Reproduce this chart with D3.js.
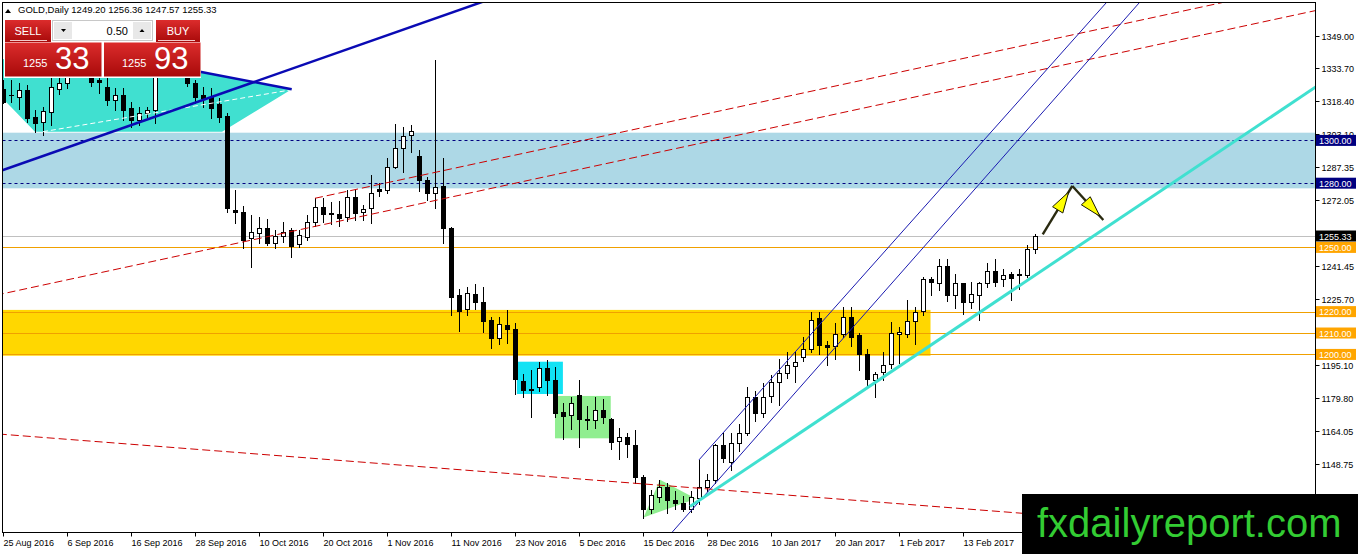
<!DOCTYPE html>
<html><head><meta charset="utf-8">
<script src="https://cdn.jsdelivr.net/npm/d3@7"></script>
<style>html,body{margin:0;padding:0;background:#fff;}svg{display:block;font-family:"Liberation Sans",Arial,sans-serif;}</style>
</head><body>
<svg id="c" width="1358" height="554"></svg>
<script>
// ---------- DATA ----------
const symbolTitle = "GOLD,Daily";
const lastQuote = ["1249.20", "1256.36", "1247.57", "1255.33"];
const opens = [1323.9,1321.4,1320.4,1323.5,1310.8,1308.4,1313.4,1323.8,1326.8,1349.0,
1340.5,1335.0,1328.2,1324.8,1318.8,1321.2,1315.0,1309.5,1312.6,1314.2,
1334.5,1337.0,1338.0,1339.0,1326.6,1321.2,1320.4,1316.8,1311.4,1267.7,
1266.6,1254.2,1256.5,1258.9,1252.2,1255.3,1258.1,1251.4,1255.0,1261.7,
1269.0,1265.9,1265.6,1264.0,1273.7,1266.4,1268.2,1277.1,1276.8,1287.7,
1296.3,1302.5,1292.8,1281.5,1275.2,1278.6,1258.9,1227.7,1221.0,1228.2,
1224.6,1216.0,1207.5,1213.7,1212.1,1187.7,1183.8,1184.9,1193.5,1188.0,
1172.9,1171.6,1181.0,1170.0,1169.3,1173.9,1170.0,1159.5,1161.5,1157.6,
1142.5,1128.0,1133.5,1138.1,1131.9,1130.8,1128.0,1133.0,1138.1,1141.3,
1157.6,1149.8,1158.4,1163.1,1179.9,1172.5,1180.5,1187.2,1191.2,1194.5,
1198.9,1202.3,1216.8,1204.2,1203.9,1209.4,1217.6,1209.0,1200.1,1188.0,
1191.9,1195.3,1209.5,1209.4,1215.7,1220.3,1235.1,1233.5,1241.3,1227.7,
1233.2,1224.6,1227.7,1233.2,1239.2,1235.1,1237.5,1237.5,1237.1,1249.20];
const highs = [1328.2,1328.0,1326.6,1325.9,1314.2,1315.7,1329.1,1329.1,1352.0,1352.5,
1347.0,1337.5,1332.0,1329.0,1324.3,1324.3,1318.1,1315.7,1315.7,1337.0,
1343.5,1342.0,1344.0,1342.0,1328.2,1325.0,1324.3,1319.7,1313.0,1276.8,
1269.4,1265.1,1264.3,1263.3,1258.0,1261.9,1258.9,1258.0,1265.0,1272.9,
1272.9,1271.3,1271.6,1277.0,1277.0,1270.0,1283.8,1280.0,1291.6,1307.6,
1306.4,1307.2,1295.5,1283.0,1337.5,1291.6,1259.5,1230.8,1231.6,1232.8,
1231.6,1217.3,1217.6,1220.7,1214.5,1190.8,1192.7,1196.3,1197.3,1194.2,
1177.4,1180.0,1188.0,1176.0,1180.2,1179.0,1170.5,1165.4,1163.5,1164.6,
1143.6,1136.6,1141.5,1139.7,1136.0,1134.0,1136.0,1150.6,1144.0,1158.0,
1163.1,1163.1,1167.5,1184.9,1183.0,1186.5,1190.6,1197.7,1201.0,1201.2,
1208.0,1220.0,1220.0,1206.2,1214.5,1222.0,1222.0,1210.0,1202.3,1191.9,
1201.0,1215.2,1213.0,1225.2,1222.0,1236.0,1236.0,1244.4,1244.4,1237.8,
1233.5,1234.0,1234.0,1242.5,1244.6,1240.0,1238.6,1239.7,1251.1,1256.36];
const lows = [1317.3,1318.1,1314.6,1308.7,1304.0,1302.5,1307.1,1321.5,1324.5,1339.0,
1333.0,1325.5,1322.0,1316.5,1314.2,1309.5,1306.4,1307.2,1311.0,1308.0,
1332.5,1334.5,1335.0,1325.5,1317.3,1315.7,1310.3,1308.6,1266.6,1261.5,
1249.5,1241.0,1252.0,1251.0,1249.5,1252.6,1245.6,1250.0,1253.5,1260.1,
1262.0,1260.9,1260.0,1262.5,1262.8,1262.7,1261.5,1274.0,1275.2,1286.9,
1285.3,1294.7,1276.3,1272.0,1268.2,1251.9,1218.4,1211.0,1218.4,1221.0,
1210.6,1202.8,1205.0,1205.4,1181.5,1179.9,1170.6,1183.0,1181.0,1170.6,
1160.3,1165.0,1156.8,1165.0,1165.4,1168.0,1155.6,1151.0,1152.0,1139.7,
1123.4,1125.7,1131.0,1125.7,1128.0,1127.0,1126.5,1130.0,1136.0,1140.0,
1149.8,1146.0,1155.0,1162.3,1169.0,1170.6,1178.0,1176.3,1189.0,1187.2,
1197.0,1201.0,1200.0,1195.1,1198.0,1208.0,1204.0,1192.7,1184.9,1180.2,
1188.0,1193.5,1196.0,1208.2,1205.0,1218.5,1227.7,1230.0,1225.0,1221.5,
1219.0,1221.5,1216.3,1231.6,1232.0,1232.0,1225.3,1230.4,1236.3,1247.57];
const closes = [1318.1,1321.0,1323.5,1310.3,1308.2,1313.8,1324.8,1326.6,1349.0,1340.5,
1335.0,1327.4,1327.4,1318.8,1321.2,1314.2,1309.5,1312.6,1314.2,1334.5,
1337.0,1338.0,1339.0,1326.6,1320.4,1319.9,1315.0,1311.0,1268.2,1266.4,
1253.4,1257.0,1258.9,1252.2,1255.3,1257.3,1250.6,1255.8,1261.7,1268.7,
1265.4,1265.4,1263.8,1273.4,1266.2,1267.9,1275.2,1276.5,1287.7,1296.3,
1302.0,1304.4,1281.5,1275.2,1278.3,1258.9,1226.9,1220.4,1228.5,1224.3,
1215.7,1207.5,1214.0,1212.1,1188.3,1183.6,1183.4,1193.5,1188.0,1172.7,
1171.2,1177.4,1169.6,1169.3,1173.9,1170.6,1159.1,1161.5,1158.1,1142.5,
1128.0,1134.2,1138.1,1131.9,1130.6,1128.0,1133.5,1138.1,1141.3,1157.6,
1151.4,1158.4,1163.1,1179.9,1172.5,1180.2,1187.2,1191.2,1195.0,1196.6,
1202.3,1216.3,1204.4,1203.6,1209.4,1217.6,1208.2,1200.1,1188.3,1190.7,
1195.0,1210.1,1210.5,1215.7,1220.0,1235.1,1234.0,1241.3,1227.7,1233.5,
1224.6,1228.2,1233.5,1239.2,1234.0,1237.1,1235.5,1236.9,1249.1,1255.33];
// time axis labels (every 8 bars from bar 0)
const dateLabels = ["25 Aug 2016","6 Sep 2016","16 Sep 2016","28 Sep 2016","10 Oct 2016","20 Oct 2016",
"1 Nov 2016","11 Nov 2016","23 Nov 2016","5 Dec 2016","15 Dec 2016","28 Dec 2016","10 Jan 2017",
"20 Jan 2017","1 Feb 2017","13 Feb 2017"];
const priceTicks = ["1349.00","1333.70","1318.40","1303.10","1287.35","1272.05","1256.75","1241.45",
"1225.70","1210.40","1195.10","1179.80","1164.05","1148.75","1133.45"];
// horizontal levels
const dashedLevels = [1300, 1280];
const orangeLevels = [1250, 1220, 1210, 1200];
const bidLevel = 1255.33;
// zones: [barFrom, barTo, priceTop, priceBottom]
const blueZone = [-5, 170, 1303.6, 1277.6];
const goldZone = [-5, 115.9, 1220.8, 1199.4];
const aquaBox = [64.2, 69.95, 1196.6, 1181.5];
const greenBox = [68.96, 75.93, 1180.6, 1160.8];
const greenTriangle = [[80.03,1123.8],[82.09,1141.4],[86.6,1132.6]];
const turquoiseShape = [[-1,1323.1],[3.96,1304.07],[27.34,1304.07],[36.05,1323.88],[24.59,1332.1],[12.1,1342.2],[-1,1337.6]];
// trend lines: [i1,p1,i2,p2]
const thickBlueLine = [0, 1286.18, 39.18, 1337.57];
const triangleEdge = [24.59, 1332.1, 36.05, 1323.88];
const whiteDashLine = [4.96, 1304.07, 35.84, 1323.55];
const redChannelLow = [7.93, 1234.8, 163.96, 1360.6];
const redChannelHighStart = [38.96, 1272.96];
const redBottomLine = [52.09, 1147.57, 127.3, 1125.8];
const blueChanA = [86.96, 1150.7, 111.46, 1253.5];
const blueChanB = [84.59, 1121.1, 115.84, 1253.5];
const turquoiseLine = [85.84, 1128.9, 134.59, 1251.1];
const arrowUp = [129.93, 1256.14, 133.63, 1278.7];
const arrowDown = [133.63, 1278.7, 137.5, 1262.8];

// ---------- SCALES ----------
const svg = d3.select("#c");
const x = d3.scaleLinear().domain([0, 164]).range([3.3, 1315.3]);
const y = d3.scaleLinear().domain([1116.7, 1364.34]).range([532.7, 2.7]);
const L = 2.5, R = 1315.5, T = 2.5, B = 532.5;

svg.append("rect").attr("width",1358).attr("height",554).attr("fill","#fff");
svg.append("defs").append("clipPath").attr("id","plot").append("rect")
  .attr("x",L).attr("y",T).attr("width",R-L).attr("height",B-T);
const plot = svg.append("g").attr("clip-path","url(#plot)");

function box(z, fill){
  plot.append("rect").attr("x",x(z[0])).attr("width",x(z[1])-x(z[0]))
    .attr("y",y(z[2])).attr("height",y(z[3])-y(z[2])).attr("fill",fill);
}
box(blueZone,"#add8e6");
box(goldZone,"#ffd700");
box(aquaBox,"#12e2f4");
box(greenBox,"#90ee90");
const poly = d3.line().x(d=>x(d[0])).y(d=>y(d[1]));
plot.append("path").attr("d",poly(greenTriangle)+"Z").attr("fill","#90ee90");
plot.append("path").attr("d",poly(turquoiseShape)+"Z").attr("fill","#40e0d0");

// horizontal levels
const crisp = v => Math.round(v)+0.5;
orangeLevels.forEach(p=>plot.append("line").attr("x1",L).attr("x2",R).attr("y1",crisp(y(p))).attr("y2",crisp(y(p)))
  .attr("stroke","#f0a000").attr("stroke-width",1));
plot.append("line").attr("x1",L).attr("x2",R).attr("y1",crisp(y(bidLevel))).attr("y2",crisp(y(bidLevel)))
  .attr("stroke","#c0c0c0").attr("stroke-width",1);
dashedLevels.forEach(p=>plot.append("line").attr("x1",L).attr("x2",R).attr("y1",crisp(y(p))).attr("y2",crisp(y(p)))
  .attr("stroke","#000080").attr("stroke-width",1).attr("stroke-dasharray","3,3"));

// candles
const bars = opens.map((o,i)=>({i,o,h:highs[i],l:lows[i],c:closes[i]}));
const cg = plot.append("g");
bars.forEach(d=>{
  const cx = Math.floor(x(d.i))+0.5;
  cg.append("line").attr("x1",cx).attr("x2",cx).attr("y1",Math.round(y(d.h))).attr("y2",Math.round(y(d.l))+1)
    .attr("stroke","#000").attr("stroke-width",1);
  const top = Math.round(y(Math.max(d.o,d.c))), bot = Math.round(y(Math.min(d.o,d.c)));
  if (d.c >= d.o) {
    cg.append("rect").attr("x",cx-2).attr("y",top+0.5).attr("width",4).attr("height",Math.max(0,bot-top))
      .attr("fill","#fff").attr("stroke","#000").attr("stroke-width",1);
  } else {
    cg.append("rect").attr("x",cx-2.5).attr("y",top).attr("width",5).attr("height",Math.max(1,bot-top+1))
      .attr("fill","#000");
  }
});

// trend lines
function tline(seg, extL, extR, color, w, dash){
  const [i1,p1,i2,p2] = seg, k = (p2-p1)/(i2-i1);
  const a = extL ? -20 : i1, b = extR ? 200 : i2;
  const ln = plot.append("line").attr("x1",x(a)).attr("y1",y(p1+k*(a-i1))).attr("x2",x(b)).attr("y2",y(p1+k*(b-i1)))
    .attr("stroke",color).attr("stroke-width",w);
  if (dash) ln.attr("stroke-dasharray",dash);
}
tline(whiteDashLine,false,false,"#ffffff",1,"5,3");
tline(redChannelLow,true,true,"#cc0000",1,"8,4");
const kRed = (redChannelLow[3]-redChannelLow[1])/(redChannelLow[2]-redChannelLow[0]);
tline([redChannelHighStart[0],redChannelHighStart[1],redChannelHighStart[0]+10,redChannelHighStart[1]+10*kRed],false,true,"#cc0000",1,"8,4");
tline(redBottomLine,true,true,"#cc0000",1,"8,4");
tline(thickBlueLine,true,true,"#0a0ab4",2.5);
tline(triangleEdge,false,false,"#0a0ab4",2.5);
tline(blueChanA,false,true,"#1a1ab0",1);
tline(blueChanB,true,true,"#1a1ab0",1);
tline(turquoiseLine,false,true,"#40e0d0",3);

// arrows
function arrow(seg, tipBack){
  const x1=x(seg[0]), y1=y(seg[1]), x2=x(seg[2]), y2=y(seg[3]);
  plot.append("line").attr("x1",x1).attr("y1",y1).attr("x2",x2).attr("y2",y2)
    .attr("stroke","#2a2a10").attr("stroke-width",2.4);
  const len = Math.hypot(x2-x1,y2-y1), ux=(x2-x1)/len, uy=(y2-y1)/len;
  const tx = x2-ux*tipBack, ty = y2-uy*tipBack, hl=21, hw=6;
  const bx = tx-ux*hl, by = ty-uy*hl;
  plot.append("path").attr("d",`M${tx},${ty}L${bx-uy*hw},${by+ux*hw}L${bx+uy*hw},${by-ux*hw}Z`)
    .attr("fill","#ffff00").attr("stroke","#1a1a00").attr("stroke-width",1);
}
arrow(arrowUp, 7);
arrow(arrowDown, 5);

// frame
svg.append("rect").attr("x",L).attr("y",T).attr("width",R-L).attr("height",B-T)
  .attr("fill","none").attr("stroke","#000").attr("stroke-width",1);

// price axis
const fs = 9;
priceTicks.forEach(t=>{
  const yy = crisp(y(+t));
  svg.append("line").attr("x1",R).attr("x2",R+4).attr("y1",yy).attr("y2",yy).attr("stroke","#000");
  svg.append("text").attr("x",1321.5).attr("y",yy+3.5).attr("font-size",fs).attr("fill","#000").text(t);
});
function tag(p, txt, bg){
  const yy = y(p);
  svg.append("rect").attr("x",1316).attr("y",yy-5.5).attr("width",40).attr("height",11).attr("fill",bg);
  svg.append("text").attr("x",1319).attr("y",yy+3.5).attr("font-size",fs).attr("fill","#fff").text(txt);
}
dashedLevels.forEach(p=>tag(p, p.toFixed(2), "#000080"));
orangeLevels.forEach(p=>tag(p, p.toFixed(2), "#ffa500"));
tag(bidLevel, bidLevel.toFixed(2), "#000");

// time axis
dateLabels.forEach((t,k)=>{
  const xx = Math.floor(x(k*8))+0.5;
  svg.append("line").attr("x1",xx).attr("x2",xx).attr("y1",B).attr("y2",B+4).attr("stroke","#000");
  svg.append("text").attr("x",xx).attr("y",546).attr("font-size",fs).attr("fill","#000").text(t);
});

// header
svg.append("path").attr("d","M5,13L8,9L11,13Z").attr("fill","#000");
svg.append("text").attr("x",18).attr("y",13).attr("font-size",9.5).attr("fill","#000")
  .text(symbolTitle + "  " + lastQuote.join(" "));

// one-click trading panel
const defs = svg.select("defs");
const g1 = defs.append("linearGradient").attr("id","rg").attr("x1",0).attr("y1",0).attr("x2",0).attr("y2",1);
g1.append("stop").attr("offset","0").attr("stop-color","#dc2c2c");
g1.append("stop").attr("offset","1").attr("stop-color","#a80a0a");
const pn = svg.append("g");
pn.append("rect").attr("x",4).attr("y",18).attr("width",197).attr("height",60).attr("fill","#fff");
pn.append("rect").attr("x",5).attr("y",20).attr("width",46).attr("height",22).attr("fill","url(#rg)");
pn.append("line").attr("x1",10).attr("x2",47).attr("y1",40.5).attr("y2",40.5).attr("stroke","#f4c8c8");
pn.append("text").attr("x",28).attr("y",35).attr("text-anchor","middle").attr("font-size",11).attr("fill","#fff").text("SELL");
pn.append("rect").attr("x",52.5).attr("y",20.5).attr("width",100).attr("height",20).attr("fill","#fff").attr("stroke","#c8c8c8");
pn.append("rect").attr("x",54).attr("y",22).attr("width",18).attr("height",17).attr("fill","#e8e8e8");
pn.append("path").attr("d","M61,29L66,29L63.5,32Z").attr("fill","#000");
pn.append("rect").attr("x",133).attr("y",22).attr("width",18).attr("height",17).attr("fill","#e8e8e8");
pn.append("path").attr("d","M139.5,32L144.5,32L142,29Z").attr("fill","#000");
pn.append("text").attr("x",128).attr("y",35).attr("text-anchor","end").attr("font-size",11).attr("fill","#000").text("0.50");
pn.append("rect").attr("x",156).attr("y",20).attr("width",44).attr("height",22).attr("fill","url(#rg)");
pn.append("line").attr("x1",158).attr("x2",195).attr("y1",40.5).attr("y2",40.5).attr("stroke","#f4c8c8");
pn.append("text").attr("x",178).attr("y",35).attr("text-anchor","middle").attr("font-size",11).attr("fill","#fff").text("BUY");
[[5,"1255","33"],[104,"1255","93"]].forEach(([bx,a,b])=>{
  pn.append("rect").attr("x",bx).attr("y",42.5).attr("width",96.5).attr("height",34).attr("fill","url(#rg)");
  pn.append("text").attr("x",bx+18).attr("y",67).attr("font-size",11).attr("fill","#fff").text(a);
  pn.append("text").attr("x",bx+50).attr("y",69).attr("font-size",31).attr("fill","#fff").text(b);
});

// watermark
svg.append("rect").attr("x",1022).attr("y",494).attr("width",336).attr("height",60).attr("fill","#000");
svg.append("text").attr("x",1037).attr("y",537).attr("font-size",40).attr("fill","#33cc33").text("fxdailyreport.com");
</script>
</body></html>
